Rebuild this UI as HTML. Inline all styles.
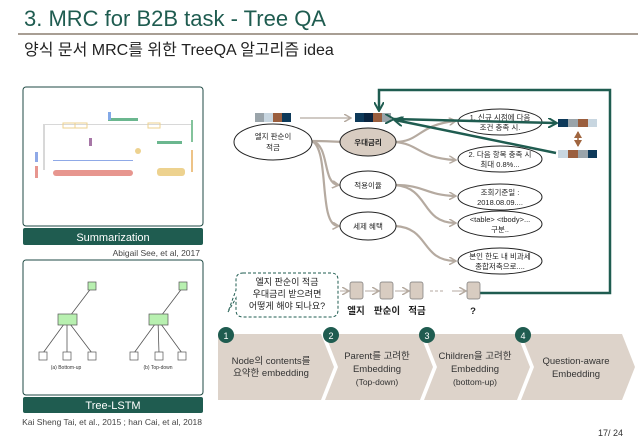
<!DOCTYPE html>
<html><head><meta charset="utf-8"><style>
body{margin:0;width:638px;height:442px;background:#fff;overflow:hidden;font-family:"Liberation Sans","Noto Sans CJK KR",sans-serif}
svg text{font-family:"Liberation Sans","Noto Sans CJK KR",sans-serif}
</style></head><body>
<svg width="638" height="442" viewBox="0 0 638 442" xmlns="http://www.w3.org/2000/svg">
<defs>
<marker id="ga" markerWidth="8" markerHeight="8" refX="6" refY="4" orient="auto" markerUnits="userSpaceOnUse"><path d="M0,0 L7,4 L0,8" fill="none" stroke="#b5aaa0" stroke-width="1.5"/></marker>
<marker id="ta" markerWidth="10" markerHeight="10" refX="8" refY="5" orient="auto" markerUnits="userSpaceOnUse"><path d="M0,0 L9,5 L0,10" fill="none" stroke="#1f5c50" stroke-width="2"/></marker>
<marker id="ba" markerWidth="8" markerHeight="8" refX="6" refY="4" orient="auto-start-reverse" markerUnits="userSpaceOnUse"><path d="M0,0 L7,4 L0,8 z" fill="#a0653f"/></marker>
</defs>
<text x="24" y="26" font-size="22" fill="#1f5c50">3. MRC for B2B task - Tree QA</text>
<rect x="18" y="33" width="620" height="2" fill="#a89e94"/>
<text x="24" y="55" font-size="16" fill="#222">양식 문서 MRC를 위한 TreeQA 알고리즘 idea</text>

<rect x="23" y="87" width="180" height="139" rx="3" fill="#fff" stroke="#1f4a44" stroke-width="1"/>
<g opacity="0.75">
<rect x="43" y="124" width="2" height="46" fill="#ccc"/>
<rect x="43" y="124" width="150" height="1" fill="#ccc"/>
<rect x="63" y="123" width="12" height="5" fill="none" stroke="#e8c36a"/>
<rect x="75" y="123" width="12" height="5" fill="none" stroke="#e8c36a"/>
<rect x="148" y="123" width="12" height="5" fill="none" stroke="#e8c36a"/>
<rect x="108" y="118" width="30" height="3" fill="#3aa06a"/>
<rect x="108" y="112" width="3" height="8" fill="#5a8de0"/>
<rect x="157" y="141" width="25" height="3" fill="#3aa06a"/>
<rect x="89" y="138" width="3" height="8" fill="#8a4a8a"/>
<circle cx="138" cy="151" r="3" fill="#e8c36a"/>
<rect x="53" y="160" width="80" height="1" fill="#6a8de0"/>
<rect x="53" y="170" width="80" height="6" rx="3" fill="#e0736a"/>
<rect x="157" y="168" width="28" height="8" rx="3" fill="#e8c36a"/>
<rect x="35" y="152" width="3" height="10" fill="#6a8de0"/>
<rect x="35" y="166" width="3" height="12" fill="#e0736a"/>
<rect x="191" y="120" width="2" height="22" fill="#5ab07a"/>
<rect x="191" y="150" width="2" height="22" fill="#e8b060"/>
</g>
<rect x="23" y="228" width="180" height="17" rx="2" fill="#1f5c50"/>
<text x="113" y="241" font-size="11" fill="#fff" text-anchor="middle">Summarization</text>
<text x="200" y="256" font-size="8.5" fill="#444" text-anchor="end">Abigail See, et al, 2017</text>

<rect x="23" y="260" width="180" height="135" rx="3" fill="#fff" stroke="#1f4a44" stroke-width="1"/>
<g stroke="#555" stroke-width="0.8" fill="none">
<line x1="67" y1="320" x2="92" y2="287"/><line x1="67" y1="320" x2="43" y2="353"/><line x1="67" y1="320" x2="67" y2="353"/><line x1="67" y1="320" x2="92" y2="353"/>
<line x1="158" y1="320" x2="183" y2="287"/><line x1="158" y1="320" x2="134" y2="353"/><line x1="158" y1="320" x2="159" y2="353"/><line x1="158" y1="320" x2="182" y2="353"/>
</g>
<g fill="#b8f0b0" stroke="#555" stroke-width="0.7">
<rect x="88" y="282" width="8" height="8"/><rect x="179" y="282" width="8" height="8"/>
<rect x="58" y="314" width="19" height="11"/><rect x="149" y="314" width="19" height="11"/>
</g>
<g fill="#fff" stroke="#555" stroke-width="0.7">
<rect x="39" y="352" width="8" height="8"/><rect x="63" y="352" width="8" height="8"/><rect x="88" y="352" width="8" height="8"/>
<rect x="130" y="352" width="8" height="8"/><rect x="155" y="352" width="8" height="8"/><rect x="178" y="352" width="8" height="8"/>
</g>
<text x="66" y="369" font-size="5" fill="#333" text-anchor="middle" font-family="Liberation Serif">(a) Bottom-up</text>
<text x="158" y="369" font-size="5" fill="#333" text-anchor="middle" font-family="Liberation Serif">(b) Top-down</text>
<rect x="23" y="397" width="180" height="16" rx="2" fill="#1f5c50"/>
<text x="113" y="409" font-size="11" fill="#fff" text-anchor="middle">Tree-LSTM</text>
<text x="202" y="425" font-size="8.5" fill="#444" text-anchor="end">Kai Sheng Tai, et al., 2015 ; han Cai, et al, 2018</text>

<g>
<rect x="255" y="113" width="9" height="9" fill="#9aa4aa"/><rect x="264" y="113" width="9" height="9" fill="#c8d6e0"/><rect x="273" y="113" width="9" height="9" fill="#9a5e3e"/><rect x="282" y="113" width="9" height="9" fill="#0e3a5a"/>
<line x1="300" y1="118" x2="350" y2="118" stroke="#b5aaa0" stroke-width="1.3" marker-end="url(#ga)"/>
<rect x="355" y="113" width="9" height="9" fill="#0e3a5a"/><rect x="364" y="113" width="9" height="9" fill="#0a2440"/><rect x="373" y="113" width="9" height="9" fill="#9a5e3e"/><rect x="382" y="113" width="9" height="9" fill="#9aa4aa"/>
</g>
<g fill="none" stroke="#b5aaa0" stroke-width="2.2">
<path d="M312,141 C330,141 335,142 355,142" marker-end="url(#ga)"/>
<path d="M312,141 C330,145 322,183 338,185" marker-end="url(#ga)"/>
<path d="M312,141 C330,150 318,225 338,226" marker-end="url(#ga)"/>
<path d="M395,142 C420,142 418,125 455,121" marker-end="url(#ga)"/>
<path d="M395,142 C420,144 418,158 455,160" marker-end="url(#ga)"/>
<path d="M395,185 C425,185 425,195 455,196" marker-end="url(#ga)"/>
<path d="M395,185 C430,188 420,222 455,223" marker-end="url(#ga)"/>
<path d="M395,226 C430,228 420,260 455,261" marker-end="url(#ga)"/>
</g>
<g stroke="#222" stroke-width="1" fill="#fff">
<ellipse cx="273" cy="142" rx="39" ry="18"/>
<ellipse cx="368" cy="142" rx="28" ry="14" fill="#d8ccc1"/>
<ellipse cx="368" cy="185" rx="28" ry="14"/>
<ellipse cx="368" cy="226" rx="28" ry="14"/>
<ellipse cx="500" cy="122" rx="42" ry="13"/>
<ellipse cx="500" cy="159" rx="42" ry="13"/>
<ellipse cx="500" cy="197" rx="42" ry="13"/>
<ellipse cx="500" cy="224" rx="42" ry="13"/>
<ellipse cx="500" cy="261" rx="42" ry="13"/>
</g>
<g font-size="7.5" fill="#222" text-anchor="middle">
<text x="273" y="139">엘지 판순이</text><text x="273" y="150">적금</text>
<text x="368" y="145" font-weight="bold">우대금리</text>
<text x="368" y="188">적용이율</text>
<text x="368" y="229">세제 혜택</text>
<text x="500" y="120">1. 신규 시점에 다음</text><text x="500" y="130">조건 충족 시.</text>
<text x="500" y="157">2. 다음 항목 충족 시</text><text x="500" y="167">최대 0.8%...</text>
<text x="500" y="195">조회기준일 :</text><text x="500" y="205">2018.08.09....</text>
<text x="500" y="222">&lt;table&gt; &lt;tbody&gt;...</text><text x="500" y="232">구분..</text>
<text x="500" y="259">본인 한도 내 비과세</text><text x="500" y="269">종합저축으로....</text>
</g>
<rect x="558" y="119" width="10" height="8" fill="#0e3a5a"/><rect x="568" y="119" width="10" height="8" fill="#9aa4aa"/><rect x="578" y="119" width="10" height="8" fill="#9a5e3e"/><rect x="588" y="119" width="9" height="8" fill="#c8d6e0"/>
<rect x="558" y="150" width="10" height="8" fill="#c8d6e0"/><rect x="568" y="150" width="10" height="8" fill="#9a5e3e"/><rect x="578" y="150" width="10" height="8" fill="#9aa4aa"/><rect x="588" y="150" width="9" height="8" fill="#0e3a5a"/>
<line x1="578" y1="132" x2="578" y2="146" stroke="#a0653f" stroke-width="1.5" marker-start="url(#ba)" marker-end="url(#ba)"/>
<g stroke="#1f5c50" stroke-width="2.5" fill="none">
<line x1="393" y1="119" x2="556" y2="123" marker-end="url(#ta)" marker-start="url(#ta)"/>
<line x1="556" y1="153" x2="395" y2="120" marker-end="url(#ta)"/>
<polyline points="480,293 610,293 610,90 379,90 379,110" marker-end="url(#ta)"/>
</g>
<path d="M243,273 H331 Q338,273 338,280 V310 Q338,317 331,317 H243 Q236,317 236,310 V298 L228,312 L236,290 V280 Q236,273 243,273 Z" fill="#fff" stroke="#1f5c50" stroke-width="1" stroke-dasharray="3,2"/>
<g font-size="9" fill="#222" text-anchor="middle">
<text x="287" y="285">엘지 판순이 적금</text><text x="287" y="297">우대금리 받으려면</text><text x="287" y="309">어떻게 해야 되나요?</text>
</g>
<g stroke="#b5aaa0" stroke-width="1" fill="none">
<line x1="340" y1="291" x2="348" y2="291" marker-end="url(#ga)"/>
<line x1="365" y1="291" x2="378" y2="291" marker-end="url(#ga)"/>
<line x1="395" y1="291" x2="408" y2="291" marker-end="url(#ga)"/>
<line x1="430" y1="291" x2="444" y2="291" stroke-dasharray="3,2"/>
<line x1="452" y1="291" x2="465" y2="291" marker-end="url(#ga)"/>
</g>
<g fill="#d8ccc1" stroke="#777" stroke-width="0.7">
<rect x="350" y="282" width="13" height="17" rx="2"/><rect x="380" y="282" width="13" height="17" rx="2"/><rect x="410" y="282" width="13" height="17" rx="2"/><rect x="467" y="282" width="13" height="17" rx="2"/>
</g>
<g font-size="9.5" font-weight="bold" fill="#222" text-anchor="middle">
<text x="356" y="314">엘지</text><text x="387" y="314">판순이</text><text x="417" y="314">적금</text><text x="473" y="314">?</text>
</g>

<g fill="#ddd3ca">
<polygon points="218,334 321,334 334,367 321,400 218,400"/>
<polygon points="325,334 420,334 433,367 420,400 325,400 338,367"/>
<polygon points="424,334 517,334 530,367 517,400 424,400 437,367"/>
<polygon points="521,334 622,334 635,367 622,400 521,400 534,367"/>
</g>
<g fill="#1f5c50">
<circle cx="226" cy="335" r="8"/><circle cx="331" cy="335" r="8"/><circle cx="427" cy="335" r="8"/><circle cx="523" cy="335" r="8"/>
</g>
<g font-size="9" fill="#fff" text-anchor="middle">
<text x="226" y="339">1</text><text x="331" y="339">2</text><text x="427" y="339">3</text><text x="523" y="339">4</text>
</g>
<g font-size="9.5" fill="#333" text-anchor="middle">
<text x="271" y="364">Node의 contents를</text><text x="271" y="376">요약한 embedding</text>
<text x="377" y="359">Parent를 고려한</text><text x="377" y="372">Embedding</text><text x="377" y="385" font-size="8.5">(Top-down)</text>
<text x="475" y="359">Children을 고려한</text><text x="475" y="372">Embedding</text><text x="475" y="385" font-size="8.5">(bottom-up)</text>
<text x="576" y="364">Question-aware</text><text x="576" y="377">Embedding</text>
</g>
<text x="623" y="436" font-size="9" fill="#333" text-anchor="end">17/ 24</text>
</svg>
</body></html>
